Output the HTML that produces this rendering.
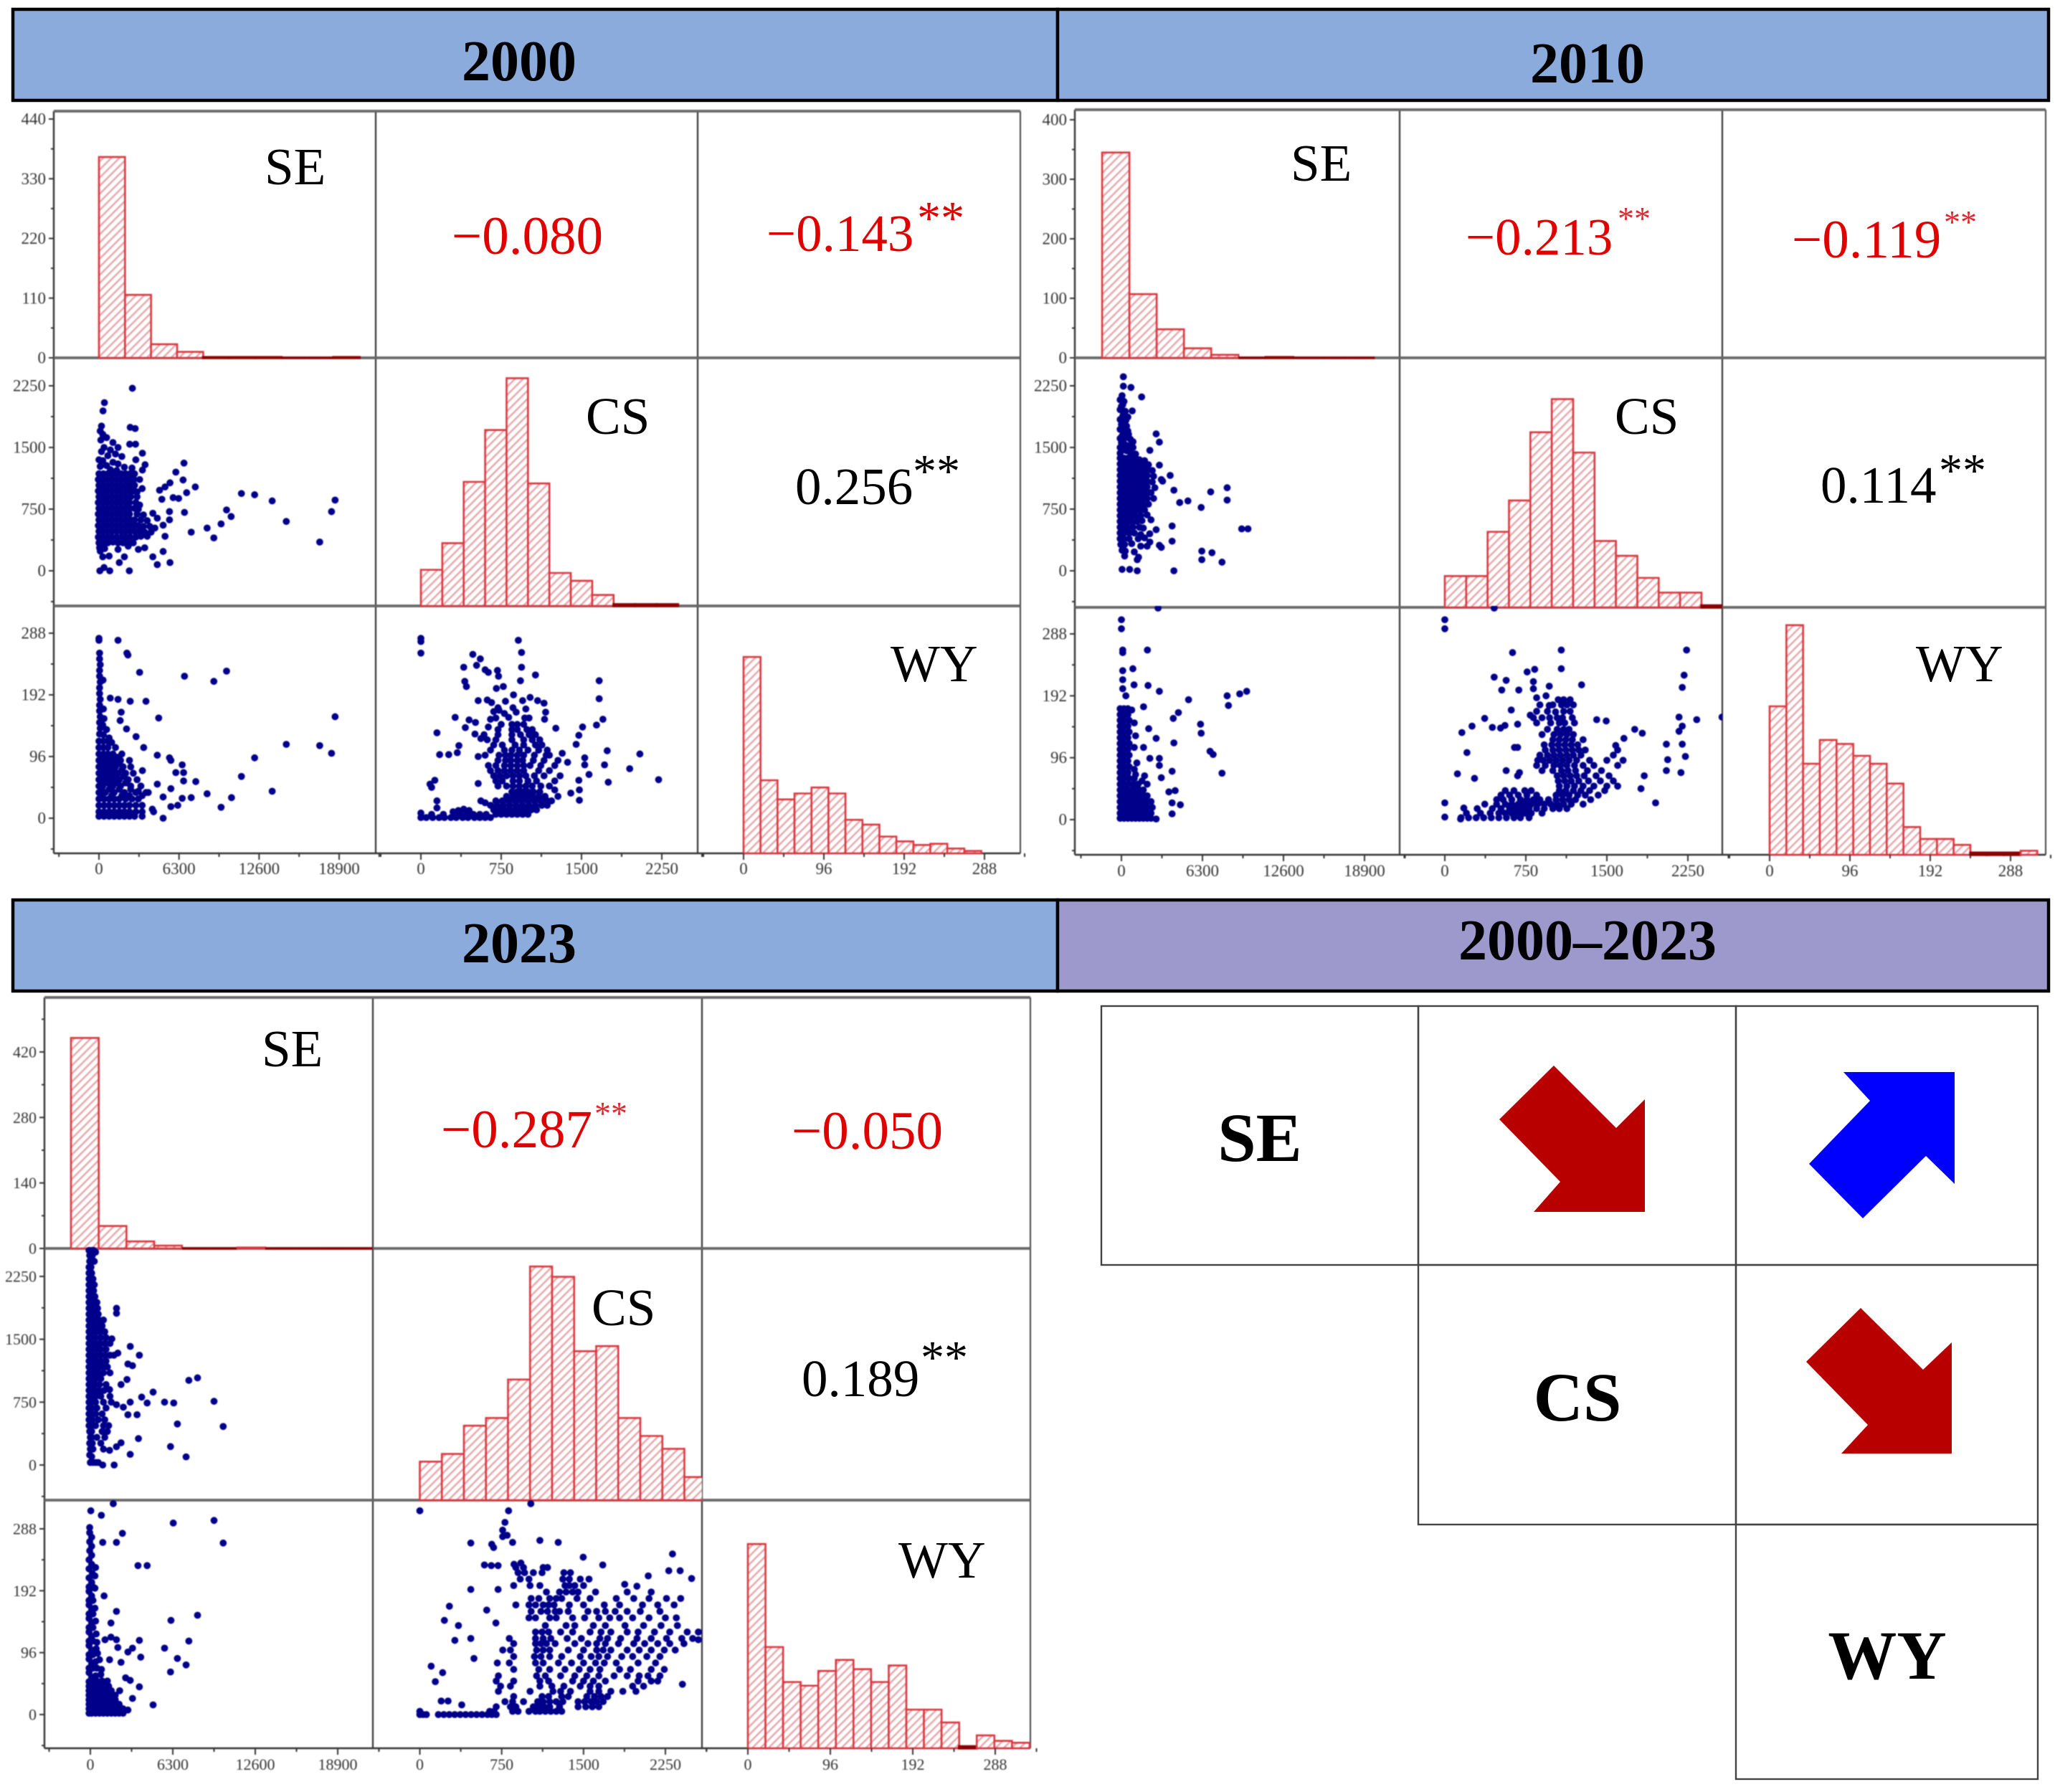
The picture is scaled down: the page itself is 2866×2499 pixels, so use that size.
<!DOCTYPE html>
<html lang="en">
<head>
<meta charset="utf-8">
<title>SE, CS and WY correlation matrices</title>
<style>
html,body{margin:0;padding:0;background:#fff;width:2866px;height:2499px;overflow:hidden}
svg{display:block;font-family:"Liberation Serif","Times New Roman",serif}
#charts{filter:blur(0.7px)}
</style>
</head>
<body>
<svg id="figure" xmlns="http://www.w3.org/2000/svg" width="2866" height="2499" viewBox="0 0 2866 2499">
<defs>
<pattern id="hatch" patternUnits="userSpaceOnUse" width="8" height="8" patternTransform="rotate(45)">
<rect width="8" height="8" fill="#fff"/>
<line x1="1.5" y1="0" x2="1.5" y2="8" stroke="#e6a3a6" stroke-width="2.4"/>
</pattern>
</defs>
<rect width="2866" height="2499" fill="#fff"/>

<g stroke="#000" stroke-width="4.5">
<rect x="18" y="13" width="1457" height="127" fill="#8aabdb"/>
<rect x="1475" y="13" width="1382" height="127" fill="#8aabdb"/>
<rect x="18" y="1255" width="1457" height="127" fill="#8aabdb"/>
<rect x="1475" y="1255" width="1382" height="127" fill="#9d99cc"/>
</g>
<g font-weight="bold" font-size="80" text-anchor="middle" fill="#000">
<text x="724" y="112">2000</text>
<text x="2214" y="115">2010</text>
<text x="724" y="1342">2023</text>
<text x="2214" y="1338">2000–2023</text>
</g>

<g id="charts"></g>

<g font-size="73">
<text x="369" y="257">SE</text>
<text x="817" y="605">CS</text>
<text x="1242" y="950">WY</text>
<text x="630" y="354" fill="#e00000" font-size="75">−0.080</text>
<text x="1069" y="350" fill="#e00000">−0.143</text>
<text x="1279" y="326" fill="#e00000" font-size="66">**</text>
<text x="1109" y="703" fill="#000">0.256</text>
<text x="1273" y="679" fill="#000" font-size="66">**</text>
</g>
<g font-size="73">
<text x="1800" y="252">SE</text>
<text x="2252" y="605">CS</text>
<text x="2672" y="950">WY</text>
<text x="2044" y="355" fill="#e00000">−0.213</text>
<text x="2256" y="320" fill="#e0262e" font-size="46">**</text>
<text x="2499" y="359" fill="#e00000" font-size="75">−0.119</text>
<text x="2711" y="325" fill="#e0262e" font-size="46">**</text>
<text x="2539" y="701" fill="#000">0.114</text>
<text x="2704" y="678" fill="#000" font-size="66">**</text>
</g>
<g font-size="73">
<text x="365" y="1487">SE</text>
<text x="825" y="1848">CS</text>
<text x="1253" y="2200">WY</text>
<text x="615" y="1600" fill="#e00000" font-size="75">−0.287</text>
<text x="829" y="1568" fill="#e0262e" font-size="46">**</text>
<text x="1104" y="1602" fill="#e00000" font-size="75">−0.050</text>
<text x="1118" y="1947" fill="#000">0.189</text>
<text x="1284" y="1915" fill="#000" font-size="66">**</text>
</g>

<g>
<g fill="none" stroke="#444" stroke-width="2.4">
<rect x="1536" y="1403" width="442" height="361"/>
<rect x="1978" y="1403" width="443" height="361"/>
<rect x="2421" y="1403" width="421" height="361"/>
<rect x="1978" y="1764" width="443" height="362"/>
<rect x="2421" y="1764" width="421" height="362"/>
<rect x="2421" y="2126" width="421" height="355"/>
</g>
<polygon fill="#b80000" points="2167,1486 2091,1561 2176,1648 2139,1690 2294,1690 2294,1533 2254,1573"/>
<polygon fill="#0000ff" points="2571,1495 2608,1535 2523,1623 2598,1699 2686,1612 2726,1651 2726,1495"/>
<polygon fill="#b80000" points="2595,1824 2519,1899 2605,1987 2568,2027 2722,2027 2722,1872 2682,1910"/>
<g font-weight="bold" font-size="96" text-anchor="middle" fill="#000">
<text x="1757" y="1619">SE</text>
<text x="2200" y="1981">CS</text>
<text x="2632" y="2341">WY</text>
</g>
</g>
</svg>

<script>
// ---- tick labels ----
const seTicks = [0, 6300, 12600, 18900];
const csTicks = [0, 750, 1500, 2250];
const wyTicks = [0, 96, 192, 288];
const histTicks2000 = [0, 110, 220, 330, 440];
const histTicks2010 = [0, 100, 200, 300, 400];
const histTicks2023 = [0, 140, 280, 420];

// ---- histogram counts ----
const seBins2000 = [370, 116, 25, 11, 1, 1, 1, 0, 0, 1];
const csBins2000 = [23, 40, 79, 112, 145, 78, 21, 16, 7, 1, 1, 1];
const wyBins2000 = [164, 61, 45, 50, 55, 50, 28, 24, 14, 10, 7, 8, 4, 2];
const seBins2010 = [345, 107, 48, 16, 5, 0, 1, 0, 0, 0];
const csBins2010 = [17, 17, 41, 58, 95, 113, 84, 36, 28, 16, 8, 8, 1];
const wyBins2010 = [75, 116, 46, 58, 56, 50, 46, 36, 14, 8, 8, 5, 1, 1, 1, 2];
const seBins2023 = [450, 48, 15, 6, 0, 0, 2, 0, 0, 0, 0];
const csBins2023 = [15, 18, 29, 32, 47, 91, 87, 58, 60, 32, 25, 20, 9];
const wyBins2023 = [111, 55, 36, 34, 42, 48, 43, 36, 45, 21, 21, 14, 1, 7, 4, 3];

// ---- scatter values, flat x,y pairs ----
const seCs2000 = [2630,2220,430,2045,320,1945,2460,1745,2850,1730,2420,1540,2880,1540,3420,1430,6690,1310,6050,1200,3630,1290,3420,1225,6620,1105,7580,1020,5590,1070,5200,1020,4770,980,4950,870,5840,890,6270,880,6900,950,11210,940,12250,925,13630,850,18580,860,18300,720,10040,740,10400,660,9610,570,8510,520,9040,400,14740,600,17370,350,7260,470,5200,420,6730,710,5550,720,5550,620,5050,555,4240,700,4590,640,5050,235,4240,170,4590,75,5590,100,2390,0,850,0,70,0,400,40,1600,100,2000,170,1500,260,300,170,100,240,800,180,2300,300,3100,260,3600,280,
200,1760,100,1700,300,1660,600,1620,150,1590,1100,1560,1500,1500,400,1500,900,1470,200,1450,1300,1420,700,1400,1800,1390,0,1350,300,1340,1100,1320,1500,1300,600,1280,100,1270,2000,1260,2600,1250,900,1230,1400,1220,
0,1180,350,1180,700,1180,1050,1180,1400,1180,1750,1180,2100,1180,2450,1180,2800,1180,-50,1110,300,1110,650,1110,1000,1110,1350,1110,1700,1110,2050,1110,2400,1110,2750,1110,3200,1110,0,1040,350,1040,700,1040,1050,1040,1400,1040,1750,1040,2100,1040,2450,1040,2800,1040,-50,970,300,970,650,970,1000,970,1350,970,1700,970,2050,970,2400,970,2750,970,0,900,350,900,700,900,1050,900,1400,900,1750,900,2100,900,2500,900,3000,900,-50,830,300,830,650,830,1000,830,1350,830,1700,830,2050,830,2400,830,2900,830,0,760,350,760,700,760,1050,760,1400,760,1750,760,2100,760,2450,760,2800,760,-50,690,300,690,650,690,1000,690,1350,690,1700,690,2050,690,2400,690,3000,690,3500,680,0,620,350,620,700,620,1050,620,1400,620,1750,620,2100,620,2450,620,2800,620,3300,620,3800,610,-50,550,300,550,650,550,1000,550,1350,550,1700,550,2050,550,2400,550,2750,550,3100,550,3500,540,4000,540,4400,520,0,480,350,480,700,480,1050,480,1400,480,1750,480,2100,480,2450,480,2800,480,3200,480,3600,470,4100,470,-50,410,300,410,650,410,1000,410,1400,410,1800,410,2100,410,2450,410,2900,410,3300,420,3800,420,0,340,350,340,700,340,1100,350,1500,340,1900,340,2300,350,2700,340,50,280,450,270,
2900,1350,2500,1120,3400,1000,3000,960,3200,800,3100,750];
const seWy2000 = [0,277,0,280,1500,277,2200,257,2280,254,3200,227,6730,221,10040,229,9040,213,320,215,890,187,1500,185,2460,182,3700,182,4700,156,18580,158,1750,165,1670,152,2170,139,2920,127,3520,110,14740,115,17370,113,18300,101,12250,94,4590,98,5550,94,5660,90,6550,83,6050,71,6660,71,6660,58,7620,57,11210,65,13630,42,8510,38,10430,32,9610,17,5050,0,5660,18,6200,20,6550,31,7260,32,5660,46,4590,53,3880,40,3420,74,5050,33,
50,257,50,248,100,239,50,230,50,221,100,212,50,203,50,194,100,185,50,176,350,170,50,167,100,158,400,155,50,149,300,145,100,140,600,138,50,131,350,130,800,125,1000,118,
0,120,350,120,700,120,0,110,350,110,700,110,1300,110,0,100,350,100,700,100,1100,100,1800,100,0,90,350,90,700,90,1200,90,1700,90,2400,90,0,80,350,80,800,80,1300,80,1900,80,2500,80,0,70,400,70,900,70,1500,70,2100,70,2700,70,0,60,400,60,1000,60,1600,60,2300,60,3000,60,0,50,300,50,1100,50,1700,50,2500,50,3300,50,0,40,500,40,1200,40,2000,40,2900,40,3700,40,0,30,400,30,800,30,1200,30,1600,30,2100,30,2600,30,3100,30,0,20,400,20,800,20,1200,20,1600,20,2000,20,2400,20,2900,20,3400,20,0,10,400,10,800,10,1200,10,1600,10,2000,10,2400,10,2900,10,3400,10,4300,10,0,3,400,3,800,3,1200,3,1600,3,2000,3,2400,3,2800,3,3400,3,4200,14,
200,95,500,95,900,95,1400,95,200,85,550,85,1050,85,1600,85,200,75,650,75,1200,75,1800,75,200,65,700,65,1300,65,1950,65,200,55,700,55,1400,55,2100,55,200,45,800,45,1600,45,2500,45,3100,42,200,35,1000,35,1800,35,2400,35,3400,35];
const csWy2000 = [0,280,0,275,0,257,910,277,940,258,940,235,1070,223,930,214,1665,214,1665,186,485,255,555,248,520,238,400,235,600,231,630,227,715,230,725,221,410,213,425,205,705,202,770,205,865,192,1020,188,950,183,1090,183,1150,179,535,183,620,184,660,180,790,182,730,168,780,163,890,165,820,157,320,157,450,153,510,149,415,141,650,154,630,142,1165,165,1155,154,1260,140,1700,154,1640,145,1510,142,1475,129,1450,115,150,133,505,131,560,124,355,113,340,102,175,99,260,99,535,96,1740,105,2045,100,1320,101,1370,87,1530,94,1530,83,1715,83,1950,77,2220,60,1750,56,1570,68,1475,59,1480,28,1400,39,1480,44,130,59,85,53,100,48,535,54,150,27,150,16,
0,1,50,1,110,1,170,1,220,1,280,1,330,1,390,1,440,1,500,1,550,1,600,1,650,1,0,8,100,6,210,6,310,6,370,6,430,6,490,6,550,6,610,6,300,10,350,12,400,14,450,12,700,6,750,6,800,6,850,6,900,6,950,6,1000,6,680,13,730,13,780,13,830,13,880,13,930,13,980,13,1030,13,1080,13,650,20,710,20,770,20,830,20,890,20,950,20,1010,20,1070,20,1130,20,1180,20,560,27,600,24,700,27,760,27,820,27,880,27,940,27,1000,27,1060,27,1120,27,1180,27,1220,27,800,34,860,34,920,34,980,34,1040,34,1100,34,1160,34,1280,34,850,41,900,41,950,41,1000,41,1050,41,1110,41,1250,44,720,50,800,50,860,50,920,50,980,50,1040,50,1120,50,1200,50,700,58,760,58,860,58,920,58,1000,58,1080,58,1250,58,680,66,740,66,800,66,860,66,920,66,980,66,1060,66,1150,66,1300,66,650,74,720,74,780,74,840,74,900,74,960,74,1100,74,1200,74,630,82,700,82,780,82,840,82,900,82,960,82,1020,82,1120,82,1250,82,720,90,790,90,840,90,900,90,950,90,1050,90,1150,90,1280,90,600,98,730,98,790,98,840,98,900,98,960,98,1060,98,1170,98,1200,98,650,106,780,106,850,106,920,106,1000,106,1100,106,1180,106,680,114,760,114,880,114,960,114,1070,114,1130,114,620,122,700,122,850,122,960,122,1040,122,1110,122,590,130,720,130,850,130,930,130,1010,130,1070,130,720,138,850,138,900,138,990,138,1040,138,750,146,850,146,900,146,960,146,700,156,970,156,1010,156,680,166,720,172,860,172,980,170];

const seCs2010 = [150,2360,150,2245,740,2230,1570,2115,840,1945,2700,1665,2950,1565,2210,1465,2950,1285,3790,1160,3100,1110,8220,1010,6940,960,8220,860,4080,980,4530,830,5170,850,6200,770,9350,510,9840,510,3940,545,3940,360,3100,285,6250,240,6250,135,7040,220,7820,105,1230,135,250,180,4080,0,1230,0,640,17,50,17,1330,165,2700,500,2210,350,2950,310,3200,1090,
50,2130,200,2060,0,2000,300,1940,100,1880,350,1830,0,1780,200,1740,500,1700,50,1640,300,1620,700,1600,0,1560,250,1540,550,1520,900,1500,100,1480,400,1460,700,1440,1100,1420,
-100,2080,100,2020,-100,1960,150,1900,-100,1840,500,1870,100,1790,-100,1720,400,1760,150,1680,-100,1610,550,1660,100,1590,-100,1500,900,1570,250,1470,-100,1430,
-100,1370,200,1370,500,1370,800,1370,1100,1370,1400,1350,1800,1340,-100,1300,200,1300,500,1300,800,1300,1100,1300,1400,1300,1700,1300,2100,1290,-100,1230,200,1230,500,1230,800,1230,1100,1230,1400,1230,1700,1230,2000,1230,2400,1220,-100,1160,200,1160,500,1160,800,1160,1100,1160,1400,1160,1700,1160,2000,1160,2500,1150,-100,1090,200,1090,500,1090,800,1090,1100,1090,1400,1090,1700,1090,2000,1090,2400,1080,-100,1020,200,1020,500,1020,800,1020,1100,1020,1400,1020,1700,1020,2000,1020,2600,1010,-100,950,200,950,500,950,800,950,1100,950,1400,950,1700,950,2000,950,2300,950,-100,880,200,880,500,880,800,880,1100,880,1400,880,1700,880,2000,880,2500,880,-100,810,200,810,500,810,800,810,1100,810,1400,810,1700,810,2100,810,-100,740,200,740,500,740,800,740,1100,740,1400,740,1800,740,-100,670,200,670,500,670,800,670,1100,670,1500,670,2000,680,-100,600,200,600,500,600,800,600,1200,600,1600,610,2300,620,-100,530,200,530,500,530,900,530,1400,530,1700,520,-100,460,200,460,600,460,1000,460,1500,440,2200,450,-100,390,200,390,600,390,1300,390,1800,400,-50,320,250,320,800,330,1500,300,2000,300,50,250,300,240,1000,230];
const seWy2010 = [2850,328,0,310,0,296,100,263,100,259,2020,263,890,234,100,231,100,217,100,203,980,209,2070,208,2950,199,345,192,5220,186,8220,192,9200,195,9740,199,8320,177,4430,166,4030,157,1720,175,6150,148,6200,134,2120,141,2700,126,4080,119,6890,106,7130,101,7820,72,1720,112,2210,95,2950,95,2950,84,3940,75,3100,65,4180,45,3690,43,3940,26,4580,23,3940,9,2700,1,
-100,172,200,172,500,172,800,170,-100,163,200,163,500,163,-100,154,200,154,600,154,-100,145,200,145,500,145,1000,150,-100,136,200,136,600,136,-100,127,200,127,500,127,1100,130,-100,118,200,118,600,118,-100,109,200,109,500,109,1000,112,-100,100,200,100,600,100,-100,91,200,91,500,91,1200,88,-100,82,200,82,600,82,1000,78,-100,73,200,73,500,73,1100,70,1800,68,-100,64,200,64,600,64,1000,64,1600,60,-100,55,200,55,500,55,900,55,1300,55,2000,55,-100,46,200,46,500,46,800,46,1100,46,1400,46,1700,46,-100,37,200,37,500,37,800,37,1100,37,1400,37,1700,37,2000,37,-100,28,200,28,500,28,800,28,1100,28,1400,28,1700,28,2000,28,2300,28,-100,19,200,19,500,19,800,19,1100,19,1400,19,1700,19,2000,19,2400,19,-100,10,200,10,500,10,800,10,1100,10,1400,10,1700,10,2000,10,2300,10,-100,2,200,2,500,2,800,2,1100,2,1400,2,1700,2,2000,2,2300,2];
const csWy2010 = [0,310,0,296,457,328,627,259,1078,263,2238,263,1078,234,762,229,832,233,2215,224,2198,205,457,221,568,216,820,214,527,201,685,201,820,203,967,207,1266,209,850,189,937,192,1406,155,1494,153,2332,155,2168,159,2566,159,2198,145,2168,137,1758,140,1828,134,1658,126,1582,115,615,170,369,157,252,145,158,135,440,143,516,142,557,146,674,148,791,162,967,177,1025,167,205,104,645,112,674,112,117,71,275,64,568,76,674,68,691,73,2198,117,2051,117,1951,26,2227,98,2063,93,2186,73,2051,76,1846,68,1816,48,0,26,0,4,176,18,146,1,
150,3,220,3,290,3,360,3,430,3,500,3,570,3,640,3,700,3,780,3,200,10,330,10,420,10,500,10,560,10,620,10,680,10,740,10,800,10,900,10,300,17,440,17,520,17,600,17,660,17,720,17,780,17,850,17,920,17,1000,17,1060,17,1130,17,370,24,480,24,560,24,620,24,680,24,740,24,800,24,860,24,920,24,980,24,1040,24,1100,24,1170,24,1280,24,480,31,540,31,620,31,700,31,760,31,820,31,880,31,960,31,1030,31,1090,31,1150,31,1210,31,1350,31,520,38,600,38,680,38,760,38,850,38,1030,38,1090,38,1150,38,1230,38,1300,38,1420,38,560,45,640,45,740,45,800,45,1060,45,1120,45,1190,45,1260,45,1340,45,1480,45,1060,52,1130,52,1200,52,1280,52,1380,52,1500,52,1600,52,1050,60,1110,60,1170,60,1240,60,1330,60,1440,60,1560,60,1040,68,1100,68,1160,68,1220,68,1290,68,1400,68,1520,68,900,76,1000,76,1080,76,1140,76,1210,76,1320,76,1450,76,850,84,930,84,1010,84,1070,84,1130,84,1200,84,1280,84,1380,84,1600,84,860,92,910,92,970,92,1030,92,1090,92,1150,92,1220,92,1340,92,1500,92,1650,92,880,100,950,100,1010,100,1070,100,1130,100,1190,100,1260,100,1560,100,930,108,1000,108,1060,108,1120,108,1180,108,1240,108,1300,108,1600,108,920,116,990,116,1050,116,1110,116,1170,116,1230,116,1000,124,1060,124,1120,124,1180,124,1280,124,900,132,1010,132,1070,132,1130,132,1190,132,950,140,1040,140,1100,140,1150,140,850,150,980,150,1060,150,1110,150,1200,150,820,158,900,158,970,158,1040,158,1090,158,1180,158,850,168,950,168,1100,168,1160,168,880,178,1000,178,1080,178,1130,178,1190,178,1050,186,1100,186,1160,186];

const seCs2023 = [2000,1870,2000,1810,3050,1415,3745,1310,2100,1335,1645,1505,2870,1205,3220,1185,8190,1040,7525,1010,9450,760,5670,750,6370,740,3920,810,4795,870,4340,740,10150,460,6650,490,6125,220,7315,97,3045,127,3675,315,2345,265,1995,218,2800,1020,2345,960,1470,900,2870,600,3570,600,3045,750,1820,0,945,0,1470,175,2520,690,1995,720,
-100,2560,100,2560,250,2560,-50,2500,150,2500,400,2540,
-50,2430,100,2430,300,2430,-100,2360,50,2360,-100,2290,100,2290,-100,2220,50,2220,200,2220,-100,2150,100,2150,300,2150,-100,2080,50,2080,250,2080,-100,2010,100,2010,350,2010,-100,1940,50,1940,250,1940,500,1940,-100,1870,100,1870,300,1870,550,1870,-100,1800,50,1800,300,1800,600,1800,-100,1730,100,1730,350,1730,650,1730,1000,1730,-100,1660,100,1660,350,1660,650,1660,900,1660,-100,1590,100,1590,400,1590,700,1590,1100,1590,-100,1520,100,1520,400,1520,800,1520,1200,1520,-100,1450,100,1450,400,1450,700,1450,1100,1450,1500,1450,-100,1380,150,1380,450,1380,800,1380,1200,1380,-100,1310,150,1310,450,1310,750,1310,1100,1310,1500,1310,1800,1310,-100,1240,150,1240,450,1240,800,1240,1200,1240,-100,1170,100,1170,400,1170,700,1170,1000,1170,1300,1170,-100,1100,100,1100,350,1100,600,1100,1000,1100,1500,1100,-100,1030,100,1030,400,1030,800,1030,-100,960,100,960,350,960,700,960,1200,960,-100,890,100,890,350,890,650,890,1050,890,-100,820,100,820,400,820,800,820,1500,820,-100,750,100,750,400,750,1000,750,1600,750,-100,680,100,680,500,680,1200,680,-100,610,100,610,400,610,900,610,-100,540,150,540,600,540,1100,540,-100,470,100,470,400,470,1000,470,1400,470,-50,400,100,400,900,400,1300,400,0,330,100,330,500,330,1100,330,-50,260,150,260,800,260,0,190,200,190,1000,190,-50,120,100,100,0,30,200,30,400,30,600,30];
const seWy2023 = [1750,327,35,316,840,309,6335,297,9450,301,10150,266,2450,281,945,267,1995,267,3640,231,4340,231,1050,184,1995,160,6160,146,8190,154,1575,142,1575,120,3745,115,7525,114,1120,116,1995,116,2100,104,5670,103,2870,97,3220,103,6650,87,3850,89,7315,77,6125,66,1470,85,2345,81,2695,57,3045,53,3745,43,2240,37,3220,25,4795,15,2870,7,
-50,290,-50,282,100,275,-50,268,100,261,-50,254,100,247,-100,240,100,233,400,228,-100,226,150,219,350,215,-100,212,100,205,-100,198,200,198,350,196,-100,191,100,184,-100,177,200,177,-100,170,100,163,350,165,-100,156,200,156,-100,149,100,142,400,145,-100,135,200,135,-100,128,100,121,450,125,-100,114,200,114,500,112,-100,107,100,100,450,102,-100,93,200,93,550,95,-100,86,100,79,400,82,700,85,-100,72,200,72,500,72,850,70,-100,65,100,58,400,60,800,62,-100,51,200,51,500,52,900,52,1300,52,-100,44,100,44,400,44,700,44,1000,44,1400,44,-100,37,100,37,400,37,700,37,1000,37,1300,37,1600,37,-100,30,100,30,400,30,700,30,1000,30,1300,30,1600,30,1900,30,-100,23,100,23,400,23,700,23,1000,23,1300,23,1600,23,1900,23,-100,16,100,16,400,16,700,16,1000,16,1300,16,1600,16,1900,16,2200,16,-100,9,100,9,400,9,700,9,1000,9,1300,9,1600,9,1900,9,2200,9,2500,9,-100,2,100,2,400,2,700,2,1000,2,1300,2,1600,2,1900,2,2200,2,2500,2];
const csWy2023 = [0,316,813,316,1017,327,780,298,759,286,800,278,759,276,467,266,659,264,676,259,850,267,1100,270,1268,267,2315,249,1497,244,1676,232,592,232,655,231,717,231,863,233,926,235,2385,223,2490,211,2281,223,2093,215,1877,202,1989,199,467,194,717,194,271,168,225,146,354,138,613,162,697,142,321,115,467,118,496,87,104,75,209,65,142,51,196,21,259,21,384,15,2406,47,2552,116,2552,128,
0,0,30,0,60,0,170,0,220,0,270,0,320,0,370,0,420,0,470,0,520,0,570,0,620,0,660,0,700,0,0,5,640,5,680,5,850,5,900,5,1000,5,1060,5,1100,5,1150,5,1200,5,1250,5,1300,5,700,12,830,12,880,12,1040,12,1090,12,1140,12,1190,12,1280,12,1450,12,1520,12,1580,12,1640,12,780,20,850,20,950,20,1080,20,1130,20,1190,20,1250,20,1310,20,1450,20,1510,20,1570,20,1620,20,1680,20,860,28,1120,28,1180,28,1300,28,1360,28,1530,28,1600,28,1660,28,1720,28,720,36,1010,36,1220,36,1290,36,1380,36,1560,36,1640,36,1750,36,1860,36,1980,36,740,44,830,44,1100,44,1210,44,1320,44,1470,44,1560,44,1640,44,1950,44,2050,44,700,52,860,52,1100,52,1180,52,1400,52,1500,52,1590,52,1700,52,2000,52,2120,52,2180,52,720,60,1070,60,1150,60,1290,60,1420,60,1530,60,1640,60,1780,60,1900,60,2010,60,2090,60,2200,60,860,70,1090,70,1190,70,1330,70,1460,70,1560,70,1650,70,1830,70,1930,70,2120,70,2240,70,710,80,820,80,1060,80,1130,80,1270,80,1390,80,1500,80,1610,80,1690,80,1800,80,2000,80,2160,80,860,90,1050,90,1110,90,1190,90,1300,90,1470,90,1570,90,1640,90,1720,90,1850,90,1950,90,2080,90,2200,90,760,100,830,100,1070,100,1130,100,1190,100,1360,100,1500,100,1620,100,1680,100,1750,100,1900,100,2010,100,2120,100,2240,100,2340,100,860,110,1060,110,1110,110,1160,110,1240,110,1420,110,1540,110,1620,110,1700,110,1820,110,1960,110,2060,110,2180,110,2290,110,2420,110,820,118,1060,118,1130,118,1200,118,1350,118,1480,118,1650,118,1720,118,1840,118,1990,118,2120,118,2260,118,2400,118,2500,118,1060,128,1120,128,1180,128,1290,128,1400,128,1560,128,1660,128,1750,128,1900,128,2000,128,2150,128,2290,128,2450,128,1150,138,1340,138,1420,138,1590,138,1700,138,1880,138,2050,138,2210,138,2360,138,1000,150,1060,150,1190,150,1250,150,1400,150,1510,150,1640,150,1740,150,1830,150,1950,150,2100,150,2250,150,2350,150,1020,160,1110,160,1170,160,1240,160,1280,160,1360,160,1540,160,1620,160,1700,160,1790,160,1900,160,2020,160,2200,160,880,170,1000,170,1060,170,1130,170,1180,170,1230,170,1370,170,1500,170,1690,170,1830,170,2040,170,2180,170,2330,170,1020,180,1090,180,1190,180,1250,180,1300,180,1440,180,1560,180,1800,180,1960,180,2100,180,2260,180,2390,180,1160,190,1280,190,1340,190,1400,190,1450,190,1610,190,1900,190,2120,190,860,200,1010,200,1100,200,1330,200,1370,200,1420,200,1500,200,920,210,1000,210,1310,210,1370,210,1470,210,1550,210,900,220,960,220,1040,220,1120,220,1320,220,1380,220,880,228,950,228,1130,228,1170,228];

// ---- panel layout (axis calibration only) ----
const layouts = [
  { year: 2000, left: 75, top: 155, cols: [524, 973], rows: [499, 845], right: 1423, bottom: 1190, font: 23,
    tickLabelY: 1219, histTicks: histTicks2000,
    xSe: [138, 473], xCs: [587, 923], xWy: [1037, 1373],
    yHist: [499, 166, 440], yCs: [796, 538], yWy: [1141, 883],
    se: seBins2000, cs: csBins2000, wy: wyBins2000,
    seStart: 0, seWidth: 2050, csWidth: 200, wyWidth: 20.3, csPx: 2.19, wyPx: 1.67,
    seCs: seCs2000, seWy: seWy2000, csWy: csWy2000 },
  { year: 2010, left: 1499, top: 153, cols: [1952, 2402], rows: [499, 847], right: 2853, bottom: 1192, font: 23,
    tickLabelY: 1222, histTicks: histTicks2010,
    xSe: [1564, 1903], xCs: [2015, 2354], xWy: [2468, 2804],
    yHist: [499, 167, 400], yCs: [796, 538], yWy: [1143, 884],
    se: seBins2010, cs: csBins2010, wy: wyBins2010,
    seStart: -1500, seWidth: 2120, csWidth: 198, wyWidth: 20, csPx: 2.57, wyPx: 2.76,
    seCs: seCs2010, seWy: seWy2010, csWy: csWy2010 },
  { year: 2023, left: 62, top: 1391, cols: [520, 979], rows: [1741, 2092], right: 1437, bottom: 2438, font: 22,
    tickLabelY: 2468, histTicks: histTicks2023,
    xSe: [126, 471], xCs: [585.5, 928], xWy: [1043, 1388],
    yHist: [1741, 1467, 420], yCs: [2043, 1780], yWy: [2391, 2132],
    se: seBins2023, cs: csBins2023, wy: wyBins2023,
    seStart: -1480, seWidth: 2120, csWidth: 202, wyWidth: 20.5, csPx: 3.58, wyPx: 2.566,
    seCs: seCs2023, seWy: seWy2023, csWy: csWy2023 }
];

const SVG_NS = 'http://www.w3.org/2000/svg';
const root = document.getElementById('charts');
const defs = document.querySelector('#figure defs');

function make(tag, attrs, parent) {
  const el = document.createElementNS(SVG_NS, tag);
  for (const k in attrs) el.setAttribute(k, attrs[k]);
  parent.appendChild(el);
  return el;
}
// Linear axis function: domain value -> pixel
function axis(v0, v1, p0, p1) {
  return function (v) { return p0 + (v - v0) * (p1 - p0) / (v1 - v0); };
}

function drawHistogram(parent, bins, start, width, xScale, yScale, clipId, name) {
  const g = make('g', { 'clip-path': 'url(#' + clipId + ')' }, parent);
  
  
  bins.forEach(function (count, i) {
    const x0 = xScale(start + i * width);
    const x1 = xScale(start + (i + 1) * width);
    const y0 = yScale(0);
    const y1 = yScale(count);
    const bar = make('path', {
      d: 'M' + x0 + ' ' + y0 + 'L' + x0 + ' ' + y1 + 'L' + x1 + ' ' + y1 + 'L' + x1 + ' ' + y0 + 'Z',
      fill: 'url(#hatch)',
      stroke: count <= 1 ? '#8b0000' : '#d9363f',
      'stroke-width': count <= 1 ? 3.4 : 2.6
    }, g);
    
    
  });
}

function drawScatter(parent, pairs, xScale, yScale, clipId, name) {
  const g = make('g', { 'clip-path': 'url(#' + clipId + ')', fill: '#00008b' }, parent);
  
  
  for (let i = 0; i + 1 < pairs.length; i += 2) {
    const dot = make('circle', { cx: xScale(pairs[i]), cy: yScale(pairs[i + 1]), r: 4.9 }, g);
    
    
  }
}

function addClip(id, x, y, w, h) {
  const c = make('clipPath', { id: id }, defs);
  make('rect', { x: x, y: y, width: w, height: h }, c);
}

function drawXTicks(parent, ticks, scale, L) {
  const step = ticks[1] - ticks[0];
  const g = make('g', { stroke: '#333', 'stroke-width': 2 }, parent);
  
  
  for (let v = -step / 2; v <= ticks[ticks.length - 1] + step / 2; v += step / 2) {
    const major = ticks.indexOf(v) >= 0;
    make('line', { x1: scale(v), x2: scale(v), y1: L.bottom, y2: L.bottom + (major ? 9 : 5) }, g);
  }
  ticks.forEach(function (t) {
    const label = make('text', { x: scale(t), y: L.tickLabelY, 'font-size': L.font, 'text-anchor': 'middle', fill: '#333' }, parent);
    label.textContent = t;
    
    
  });
}

function drawYTicks(parent, ticks, scale, L, lo, hi) {
  const step = ticks[1] - ticks[0];
  const g = make('g', { stroke: '#333', 'stroke-width': 2 }, parent);
  
  
  for (let v = ticks[0] - step / 2; v <= ticks[ticks.length - 1] + step / 2; v += step / 2) {
    const y = scale(v);
    if (y < lo || y > hi) continue;
    const major = ticks.indexOf(v) >= 0;
    make('line', { x1: L.left - (major ? 7 : 4), x2: L.left, y1: y, y2: y }, g);
  }
  ticks.forEach(function (t) {
    const label = make('text', { x: L.left - 11, y: scale(t) + 7.5, 'font-size': L.font, 'text-anchor': 'end', fill: '#333' }, parent);
    label.textContent = t;
    
    
  });
}

layouts.forEach(function (L) {
  const panel = make('g', {}, root);
  
  

  const xSe = axis(0, 18900, L.xSe[0], L.xSe[1]);
  const xCs = axis(0, 2250, L.xCs[0], L.xCs[1]);
  const xWy = axis(0, 288, L.xWy[0], L.xWy[1]);
  const yHist = axis(0, L.yHist[2], L.yHist[0], L.yHist[1]);
  const yCs = axis(0, 2250, L.yCs[0], L.yCs[1]);
  const yWy = axis(0, 288, L.yWy[0], L.yWy[1]);
  const yCsCount = axis(0, 100, L.rows[1], L.rows[1] - 100 * L.csPx);
  const yWyCount = axis(0, 100, L.bottom, L.bottom - 100 * L.wyPx);

  const colX = [L.left, L.cols[0], L.cols[1], L.right];
  const rowY = [L.top, L.rows[0], L.rows[1], L.bottom];
  for (let r = 0; r < 3; r++) {
    for (let c = 0; c < 3; c++) {
      addClip('cell-' + L.year + '-' + r + '-' + c, colX[c], rowY[r] - 2, colX[c + 1] - colX[c], rowY[r + 1] - rowY[r] + 4);
    }
  }
  const clip = function (r, c) { return 'cell-' + L.year + '-' + r + '-' + c; };

  const grid = make('g', { fill: 'none' }, panel);
  
  
  make('line', { x1: L.left, x2: L.left, y1: L.top, y2: L.bottom, stroke: '#333', 'stroke-width': 2.4 }, grid);
  make('line', { x1: L.right, x2: L.right, y1: L.top, y2: L.bottom, stroke: '#444', 'stroke-width': 2 }, grid);
  L.cols.forEach(function (x) {
    make('line', { x1: x, x2: x, y1: L.top, y2: L.bottom, stroke: '#333', 'stroke-width': 2.2 }, grid);
  });
  [L.top, L.rows[0], L.rows[1]].forEach(function (y) {
    make('line', { x1: L.left, x2: L.right, y1: y, y2: y, stroke: '#666', 'stroke-width': 3.8 }, grid);
  });
  make('line', { x1: L.left, x2: L.right, y1: L.bottom, y2: L.bottom, stroke: '#333', 'stroke-width': 2.6 }, grid);

  drawHistogram(panel, L.se, L.seStart, L.seWidth, xSe, yHist, clip(0, 0), 'histogram-se-' + L.year);
  drawHistogram(panel, L.cs, 0, L.csWidth, xCs, yCsCount, clip(1, 1), 'histogram-cs-' + L.year);
  drawHistogram(panel, L.wy, 0, L.wyWidth, xWy, yWyCount, clip(2, 2), 'histogram-wy-' + L.year);
  drawScatter(panel, L.seCs, xSe, yCs, clip(1, 0), 'scatter-se-cs-' + L.year);
  drawScatter(panel, L.seWy, xSe, yWy, clip(2, 0), 'scatter-se-wy-' + L.year);
  drawScatter(panel, L.csWy, xCs, yWy, clip(2, 1), 'scatter-cs-wy-' + L.year);

  drawXTicks(panel, seTicks, xSe, L);
  drawXTicks(panel, csTicks, xCs, L);
  drawXTicks(panel, wyTicks, xWy, L);
  drawYTicks(panel, L.histTicks, yHist, L, L.top, L.rows[0]);
  drawYTicks(panel, csTicks, yCs, L, L.rows[0], L.rows[1]);
  drawYTicks(panel, wyTicks, yWy, L, L.rows[1], L.bottom);
});
</script>
</body>
</html>
